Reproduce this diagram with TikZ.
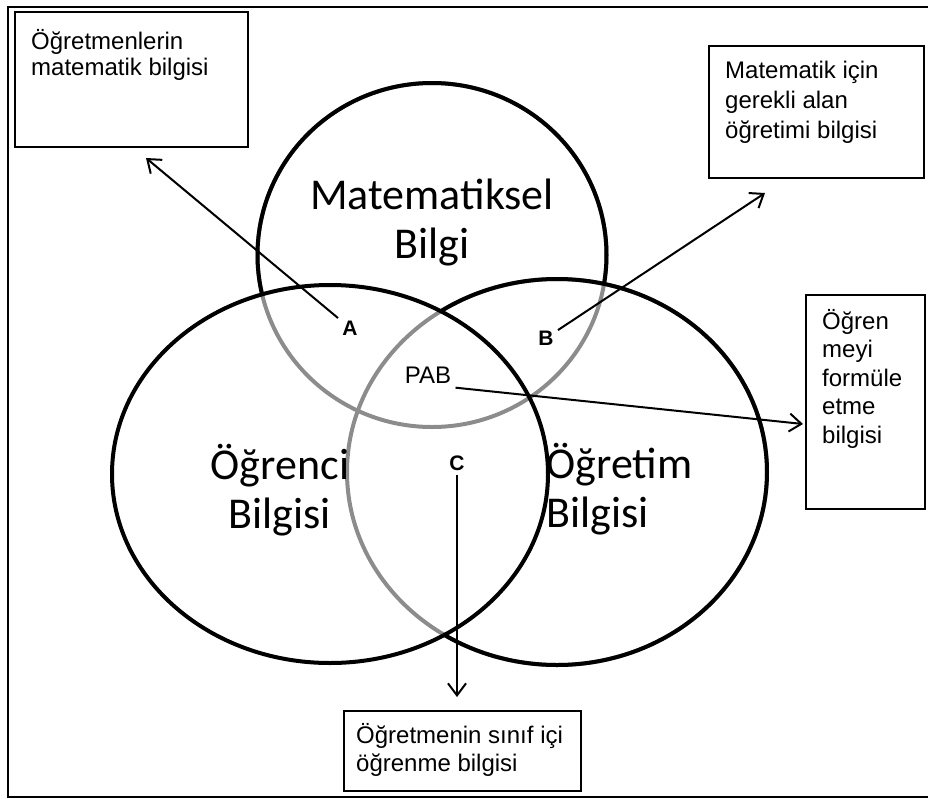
\documentclass[tikz,border=0pt]{standalone}
\usepackage{fontspec}
\setmainfont{Liberation Sans}
\newfontfamily\vennfont{Carlito}
\usepackage{tikz}
\usetikzlibrary{arrows.meta}

% box text: width, height, first baseline, text
\newcommand{\notetext}[4]{\parbox[t][#2][t]{#1}{\raggedright\rule{0pt}{#3}#4}}

\begin{document}
\begin{tikzpicture}[
    x=0.5pt, y=-0.5pt,
    ring/.style={line width=2pt},
    faint/.style={line width=2pt, draw=black!45},
    note/.style={draw, line width=1.2pt, anchor=north west, inner xsep=8pt, inner ysep=0pt,
                 font=\fontsize{12}{14}\selectfont},
    venn/.style={inner sep=0pt, font=\vennfont\fontsize{22}{24.5}\selectfont},
    tag/.style={inner sep=2pt, font=\fontsize{12}{14}\selectfont},
    arr/.style={-{Straight Barb[length=6pt, width=9pt]}, line width=1pt},
]
\useasboundingbox (0,0) rectangle (928,799);

% Frame
\draw[line width=1pt] (928,7) -- (8,7) -- (8,797) -- (928,797);

% Circle centres
\coordinate (mat) at (432,255);
\coordinate (stu) at (330,474);
\coordinate (tch) at (557,472);

% Grey inner arcs
\draw[faint] (mat) ellipse [x radius=87.25pt, y radius=86pt];
\draw[faint] (tch) ellipse [x radius=105pt, y radius=96.5pt];

% Black outer arcs
\begin{scope}[even odd rule]
  \clip (0,0) rectangle (928,799) (stu) ellipse [x radius=109pt, y radius=94.5pt];
  \clip (0,0) rectangle (928,799) (tch) ellipse [x radius=105pt, y radius=96.5pt];
  \draw[ring] (mat) ellipse [x radius=87.25pt, y radius=86pt];
\end{scope}
\begin{scope}[even odd rule]
  \clip (0,0) rectangle (928,799) (stu) ellipse [x radius=109pt, y radius=94.5pt];
  \draw[ring] (tch) ellipse [x radius=105pt, y radius=96.5pt];
\end{scope}
\draw[ring] (stu) ellipse [x radius=109pt, y radius=94.5pt];

% Circle labels
\node[venn, align=center] (matlbl) at (432,222) {Matematiksel\\Bilgi};
\node[venn, align=center] (stulbl) at (280,490) {Öğrenci\\Bilgisi};
\node[venn, align=left, anchor=west] (tchlbl) at (546,489) {Öğretim\\Bilgisi};

% Region labels
\node[tag, font=\fontsize{10.5}{12}\selectfont\bfseries] (A) at (350,328) {A};
\node[tag, font=\fontsize{10.5}{12}\selectfont\bfseries] (B) at (546,338) {B};
\node[tag, font=\fontsize{10.5}{12}\selectfont\bfseries] (C) at (457,463) {C};
\node[tag] (PAB) at (428,375) {PAB};

% Boxes
\node[note, font=\fontsize{12}{13}\selectfont] (mathbox) at (14,11)
    {\notetext{100.5pt}{67.5pt}{18.5pt}{Öğretmenlerin\\matematik bilgisi}};
\node[note, font=\fontsize{12}{15}\selectfont] (contbox) at (708,45)
    {\notetext{91.5pt}{66pt}{16pt}{Matematik için\\gerekli alan\\öğretimi bilgisi}};
\node[note, font=\fontsize{12}{14.25}\selectfont] (formbox) at (805,294)
    {\notetext{43.5pt}{107pt}{17pt}{Öğren\\meyi\\formüle\\etme\\bilgisi}};
\node[note, inner xsep=6pt] (classbox) at (343,710)
    {\notetext{106.5pt}{40pt}{16pt}{Öğretmenin sınıf içi\\öğrenme bilgisi}};

% Arrow tips
\coordinate (tipA) at (146,158);
\coordinate (tipB) at (765,193);
\coordinate (tipP) at (803,424);
\coordinate (tipC) at (457,697);

% Arrows
\draw[arr] (A) -- (tipA);
\draw[arr] (B) -- (tipB);
\draw[arr] (PAB.south east) -- (tipP);
\draw[arr] (C) -- (tipC);

\end{tikzpicture}
\end{document}
